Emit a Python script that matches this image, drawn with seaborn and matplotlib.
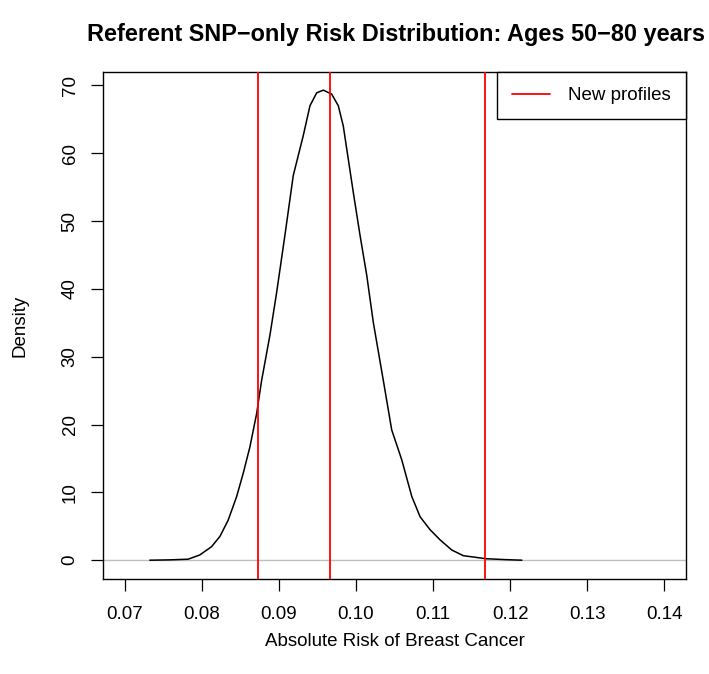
import matplotlib
matplotlib.use("Agg")
import matplotlib.pyplot as plt
import seaborn as sns
import pandas as pd

# Density curve
risk = [0.07327, 0.07586, 0.07824, 0.07976, 0.08128, 0.08236, 0.08343, 0.08452,
        0.08538, 0.08625, 0.08712, 0.08777, 0.08885, 0.08972, 0.09079, 0.09187,
        0.09317, 0.09404, 0.09491, 0.09577, 0.09686, 0.09771, 0.09836, 0.09901,
        0.09966, 0.10053, 0.10140, 0.10226, 0.10355, 0.10464, 0.10594, 0.10724,
        0.10832, 0.10961, 0.11091, 0.11243, 0.11394, 0.11524, 0.11685, 0.11913,
        0.12152]
density = [0.0, 0.05, 0.15, 0.78, 2.0, 3.5, 5.9, 9.35,
           12.8, 16.7, 21.6, 26.5, 33.2, 39.5, 47.9, 56.7,
           62.6, 67.0, 68.9, 69.3, 68.7, 67.0, 64.0, 59.1,
           54.2, 47.9, 42.0, 35.0, 26.5, 19.2, 14.8, 9.4,
           6.4, 4.5, 3.0, 1.5, 0.66, 0.47, 0.22, 0.1,
           0.0]
new_profiles = [0.0873, 0.0967, 0.1167]
x_ticks = [0.07, 0.08, 0.09, 0.10, 0.11, 0.12, 0.13, 0.14]
y_ticks = [0, 10, 20, 30, 40, 50, 60, 70]

sns.set_style("white")
plt.rcParams['font.family'] = ['Liberation Sans', 'DejaVu Sans']
plt.rcParams['text.color'] = 'black'
plt.rcParams['axes.labelcolor'] = 'black'
plt.rcParams['xtick.color'] = 'black'
plt.rcParams['ytick.color'] = 'black'

fig = plt.figure(figsize=(7.09, 6.74), dpi=100)
ax = fig.add_axes([103/709, 1-579/674, (686-103)/709, (579-72)/674])

ax.axhline(0, color="#bebebe", lw=1.0, zorder=1)
df = pd.DataFrame({"risk": risk, "density": density})
sns.lineplot(data=df, x="risk", y="density", ax=ax, color="black", lw=1.1,
             estimator=None, sort=False, zorder=2)
for i, v in enumerate(new_profiles):
    ax.axvline(v, color="red", lw=1.3, zorder=3, label="New profiles" if i == 0 else None)

ax.set_xlim(0.0672, 0.1428)
ax.set_ylim(-2.77, 71.97)
ax.set_xticks(x_ticks)
ax.set_xticklabels([f"{t:.2f}" for t in x_ticks])
ax.set_yticks(y_ticks)
ax.set_yticklabels([str(t) for t in y_ticks], rotation=90, va="center")
ax.tick_params(axis="both", direction="out", length=8.5, width=0.9, color="black",
               labelsize=13.5, bottom=True, left=True, pad=11)
ax.tick_params(axis="y", pad=9)
for s in ax.spines.values():
    s.set_color("black")
    s.set_linewidth(1.0)

ax.set_xlabel("Absolute Risk of Breast Cancer", fontsize=13.5, labelpad=7)
ax.set_ylabel("Density", fontsize=13.5, labelpad=24)
fig.text((103+686)/2/709 + 0.002, 1-34/674, "Referent SNP\u2212only Risk Distribution: Ages 50\u221280 years",
         ha="center", va="center", fontsize=16.9, fontweight="bold")

leg = ax.legend(loc="upper right", borderaxespad=0, fancybox=False, frameon=True,
                fontsize=13.5, handlelength=2.0, handletextpad=1.0,
                borderpad=0.8, edgecolor="black")
leg.get_frame().set_linewidth(1.0)
leg.get_frame().set_alpha(1)

fig.savefig("out.png", dpi=100)
